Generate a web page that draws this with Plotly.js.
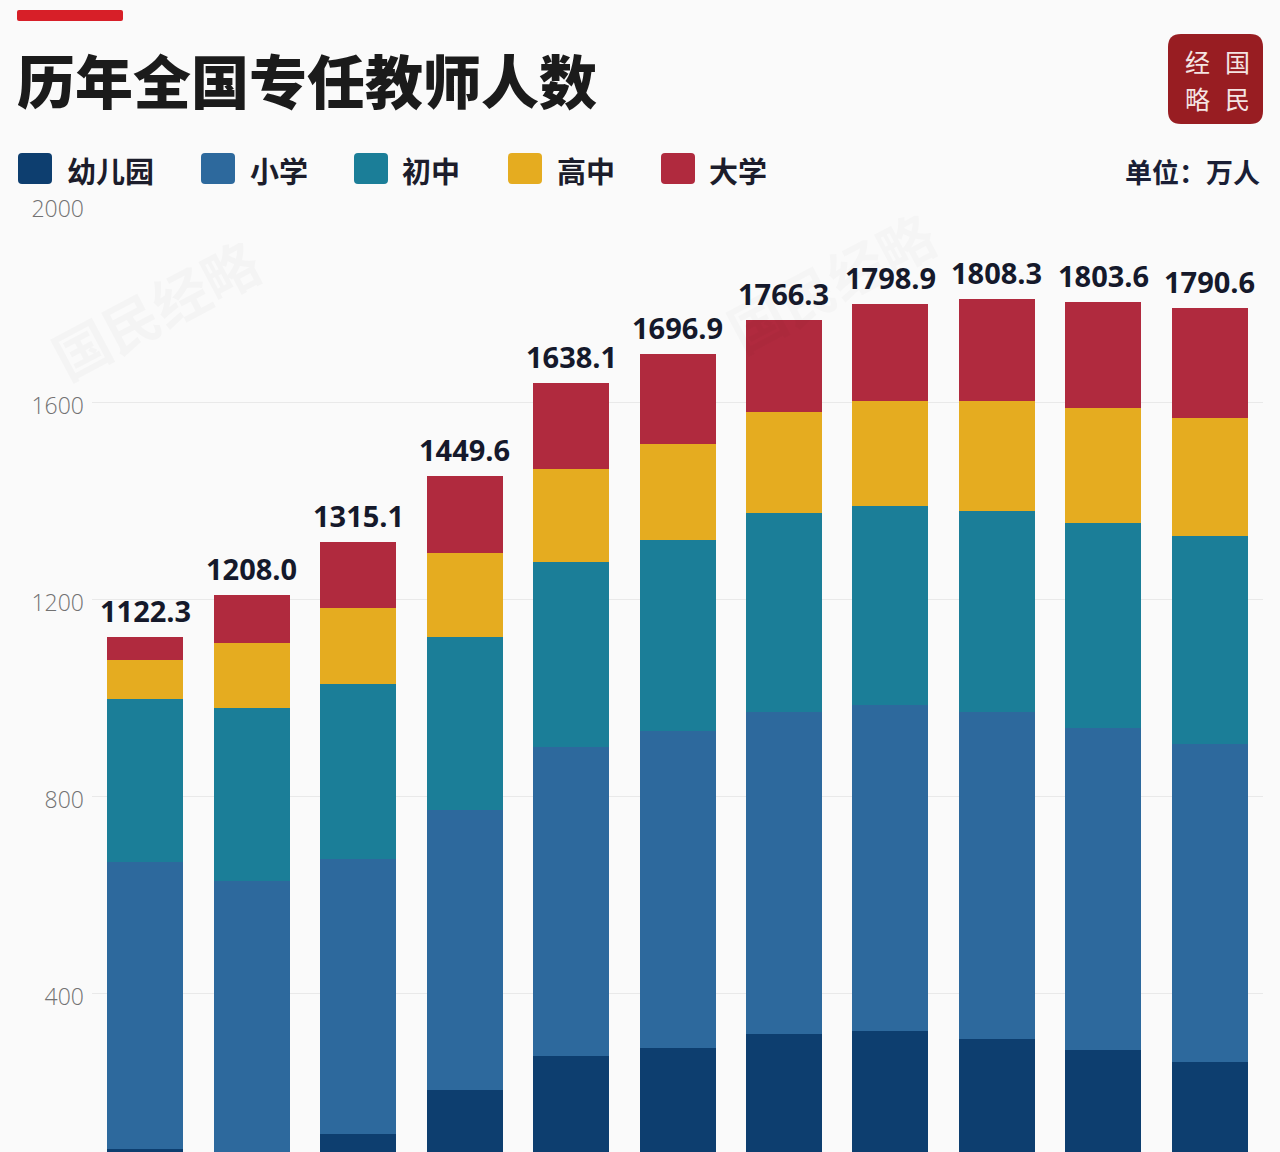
<!DOCTYPE html>
<html>
<head>
<meta charset="utf-8">
<script src="https://cdn.plot.ly/plotly-3.0.1.min.js"></script>
<style>
  html, body { margin: 0; padding: 0; background: #fafafa; overflow: hidden; }
  #chart { width: 1280px; height: 1240px; }
</style>
</head>
<body>
<div id="chart"></div>
<script>
// ---- data (万人) ----
const categories = ['1', '2', '3', '4', '5', '6', '7', '8', '9', '10', '11'];
const seriesNames = ['幼儿园', '小学', '初中', '高中', '大学'];
const kindergarten = [83.4, 68.0, 113.0, 203.3, 272.9, 288.3, 317.1, 322.8, 306.8, 283.6, 260.5];
const primary      = [582.0, 559.1, 559.0, 568.7, 627.1, 643.2, 652.9, 661.2, 663.2, 654.4, 644.5];
const juniorHigh   = [332.4, 352.4, 355.5, 350.4, 376.1, 387.4, 404.3, 404.1, 409.2, 416.8, 423.2];
const seniorHigh   = [78.9, 131.7, 153.5, 170.1, 187.5, 195.1, 205.5, 214.7, 223.0, 232.4, 239.1];
const university   = [45.6, 96.8, 134.1, 157.1, 174.5, 182.9, 186.5, 196.1, 206.1, 216.4, 223.3];
const totals       = [1122.3, 1208.0, 1315.1, 1449.6, 1638.1, 1696.9, 1766.3, 1798.9, 1808.3, 1803.6, 1790.6];
const yTickValues  = [400, 800, 1200, 1600, 2000];
const titleText = '历年全国专任教师人数';
const unitText = '单位：万人';
const logoChars = ['经', '国', '略', '民'];
const watermarkText = '国民经略';

// ---- styles ----
const colors = ['#0d3e6f', '#2d699d', '#1b7e98', '#e5ac20', '#b02a3e'];
const series = [kindergarten, primary, juniorHigh, seniorHigh, university];

// plot area in page pixels
const W = 1280, H = 1240;
const PL = 92, PR = 1263, PT = 205, PB = 1190;
const X = px => (px - PL) / (PR - PL);
const Y = py => (PB - py) / (PB - PT);

function roundRect(x0, y0, x1, y1, r) {
  return 'M' + X(x0 + r) + ',' + Y(y0) +
    ' L' + X(x1 - r) + ',' + Y(y0) +
    ' Q' + X(x1) + ',' + Y(y0) + ' ' + X(x1) + ',' + Y(y0 + r) +
    ' L' + X(x1) + ',' + Y(y1 - r) +
    ' Q' + X(x1) + ',' + Y(y1) + ' ' + X(x1 - r) + ',' + Y(y1) +
    ' L' + X(x0 + r) + ',' + Y(y1) +
    ' Q' + X(x0) + ',' + Y(y1) + ' ' + X(x0) + ',' + Y(y1 - r) +
    ' L' + X(x0) + ',' + Y(y0 + r) +
    ' Q' + X(x0) + ',' + Y(y0) + ' ' + X(x0 + r) + ',' + Y(y0) + ' Z';
}

const traces = series.map((vals, i) => ({
  type: 'bar',
  name: seriesNames[i],
  x: categories,
  y: vals,
  marker: { color: colors[i], line: { width: 0 } },
  hoverinfo: 'name+y'
}));

const shapes = [];
const annotations = [];

// red accent bar
shapes.push({ type: 'path', xref: 'paper', yref: 'paper', path: roundRect(17, 10, 123, 21, 2),
  fillcolor: '#d71f28', line: { width: 0 }, layer: 'above' });

// custom legend
const legendSwatchX = [18, 201, 354, 508, 661];
const legendTextX = [65, 248, 400, 555, 707];
seriesNames.forEach((n, i) => {
  shapes.push({ type: 'path', xref: 'paper', yref: 'paper',
    path: roundRect(legendSwatchX[i], 153, legendSwatchX[i] + 34, 184, 4),
    fillcolor: colors[i], line: { width: 0 } });
  annotations.push({ xref: 'paper', yref: 'paper', x: X(legendTextX[i]), y: Y(170),
    xanchor: 'left', yanchor: 'middle', showarrow: false, text: n,
    font: { family: 'Noto Sans CJK SC', size: 29, weight: 700, color: '#1c1d2b' } });
});

// unit
annotations.push({ xref: 'paper', yref: 'paper', x: X(1262), y: Y(171),
  xanchor: 'right', yanchor: 'middle', showarrow: false, text: unitText,
  font: { family: 'Noto Sans CJK SC', size: 27, weight: 700, color: '#1a1f36' } });

// logo
shapes.push({ type: 'path', xref: 'paper', yref: 'paper', path: roundRect(1168, 34, 1263, 124, 13),
  fillcolor: '#981d22', line: { width: 0 } });
const logoPos = [[1197, 61], [1237, 61], [1197, 98], [1237, 98]];
logoChars.forEach((c, i) => {
  annotations.push({ xref: 'paper', yref: 'paper', x: X(logoPos[i][0]), y: Y(logoPos[i][1]),
    xanchor: 'center', yanchor: 'middle', showarrow: false, text: c, borderpad: 0,
    font: { family: 'Noto Sans CJK SC', size: 25, weight: 400, color: '#f4e4e2' } });
});

// faint watermarks
annotations.push({ xref: 'paper', yref: 'paper', x: X(155), y: Y(308), xanchor: 'center', yanchor: 'middle',
  showarrow: false, text: watermarkText, textangle: -28,
  font: { family: 'Noto Sans CJK SC', size: 56, weight: 700, color: 'rgba(0,0,0,0.025)' } });
annotations.push({ xref: 'paper', yref: 'paper', x: X(830), y: Y(280), xanchor: 'center', yanchor: 'middle',
  showarrow: false, text: watermarkText, textangle: -28,
  font: { family: 'Noto Sans CJK SC', size: 56, weight: 700, color: 'rgba(0,0,0,0.02)' } });

// total labels above bars
categories.forEach((c, i) => {
  annotations.push({ x: c, y: totals[i], xref: 'x', yref: 'y', yanchor: 'bottom', yshift: 5,
    showarrow: false, text: totals[i].toFixed(1),
    font: { family: 'Open Sans', size: 29, weight: 700, color: '#15192b' } });
});

const layout = {
  width: W, height: H,
  paper_bgcolor: '#fafafa', plot_bgcolor: '#fafafa',
  margin: { l: PL, r: W - PR, t: PT, b: H - PB },
  title: {
    text: titleText,
    xref: 'container', yref: 'container',
    x: 17 / W, xanchor: 'left',
    y: 1 - 84 / H, yanchor: 'middle',
    font: { family: 'Noto Sans CJK SC', size: 58, weight: 900, color: '#1b1b1b' }
  },
  barmode: 'stack',
  bargap: 0.286,
  showlegend: false,
  xaxis: { showticklabels: false, showgrid: false, zeroline: false, showline: false, ticks: '' },
  yaxis: {
    range: [0, 2000],
    tickvals: yTickValues,
    ticktext: yTickValues.map(String),
    showgrid: true, gridcolor: '#e9e9e9', gridwidth: 1,
    zeroline: false, showline: false, ticks: '',
    ticklabelstandoff: 7,
    ticklabelshift: 4,
    tickfont: { family: 'Open Sans', size: 23, weight: 300, color: '#727272' }
  },
  shapes: shapes,
  annotations: annotations
};

Plotly.newPlot('chart', traces, layout, { staticPlot: true, displayModeBar: false });
</script>
</body>
</html>
